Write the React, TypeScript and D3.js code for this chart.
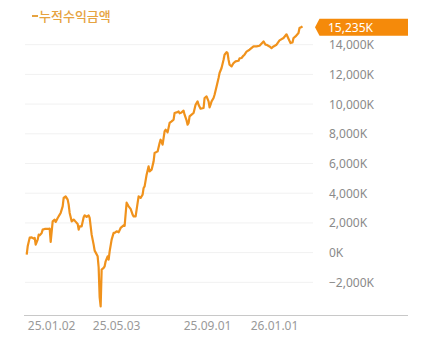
import React from "react";
import * as d3 from "d3";

// trading-day index (x) and cumulative profit in K won
const dayIndex = [0,1,3,5,7,8,9,11,12,13,15,16,18,22,23,24,26,28,29,31,33,34,36,37,39,41,42,43,45,47,48,51,52,53,55,57,58,60,62,63,65,67,68,71,72,73,74,75,77,78,79,81,82,83,85,87,88,90,92,94,97,98,99,100,102,104,106,107,109,111,112,114,116,117,118,120,122,123,125,127,128,131,133,134,136,138,139,141,143,145,147,148,150,152,153,155,157,158,160,161,162,163,165,167,169,171,172,174,177,178,180,182,183,184,185,187,188,190,192,193,195,197,198,200,201,202,203,205,207,209,212,213,215,217,218,220,223,227,230,233,237,239,240,243,245,247,250,253,257,260,262,264,266,267,269,272,273,275,276];
const profitK = [-135,424,1010,1030,942,989,538,875,1211,1164,1326,1548,1595,1595,1615,720,2106,2221,2066,2335,2557,2672,3116,3681,3789,3567,3230,2672,2106,2221,2154,1932,1548,1770,1770,2376,2510,2403,2510,2335,1211,538,135,-249,-1000,-3000,-3620,-1144,-1030,-922,-585,-249,-471,87,875,1326,1326,1433,1366,1662,1830,1800,2600,3363,3116,2941,2557,2443,2443,3345,3789,3681,3903,4354,4462,5249,5808,5471,5586,6144,6710,6817,7383,7605,7268,8163,8278,8096,8729,8836,8951,9402,9442,9509,9380,9442,9557,9290,8900,8614,8729,9173,9287,9402,9960,10182,9960,9691,9738,10411,10519,10182,9779,9960,10182,10411,10633,11192,11757,12094,12430,12989,13325,13500,13440,12989,12652,12538,12766,12874,12922,13080,13103,13270,13325,13530,13662,13884,13884,13931,14220,14000,13998,13884,13777,13884,13998,14288,14450,14700,14400,14113,14153,14450,14557,14786,15120,15190,15235];
const xTickDays = [25, 90, 181, 248];
const xTickLabels = ["25.01.02", "25.05.03", "25.09.01", "26.01.01"];
const yTickValues = [-2000, 0, 2000, 4000, 6000, 8000, 10000, 12000, 14000];
const seriesName = "누적수익금액";

export default function App() {
  const W = 431, H = 352;
  const x = d3.scaleLinear().domain([0, 276]).range([26.7, 302.5]);
  const y = d3.scaleLinear().domain([-4200, 16000]).range([315, 15]);
  const pts = dayIndex.map((d, i) => [d, profitK[i]] as [number, number]);
  const line = d3.line<[number, number]>().x(d => x(d[0])).y(d => y(d[1]));
  const fmt = (v: number) => d3.format(",")(v) + "K";
  const last = profitK[profitK.length - 1];
  const ly = y(last);
  const font = "'Noto Sans', 'Noto Sans CJK KR', sans-serif";
  return (
    <svg width={W} height={H} style={{ position: "absolute", left: 0, top: 0, background: "#fff" }}>
      {yTickValues.map(v => (
        <g key={v}>
          <line x1={25} x2={313} y1={y(v)} y2={y(v)} stroke="#f1f1f1" strokeWidth={1} />
          <text x={329} y={y(v) + 4.5} fontSize={12} fill="#8a8a8a" fontFamily={font}>{fmt(v)}</text>
        </g>
      ))}
      <line x1={24} x2={408} y1={315.5} y2={315.5} stroke="#c8c8c8" strokeWidth={1} />
      {xTickDays.map((d, i) => (
        <text key={d} x={x(d)} y={329.5} fontSize={12} fill="#999" textAnchor="middle" fontFamily={font}>{xTickLabels[i]}</text>
      ))}
      <path d={line(pts) || ""} fill="none" stroke="#f0921c" strokeWidth={2.2} strokeLinejoin="round" />
      <line x1={32} x2={38} y1={16} y2={16} stroke="#e6a340" strokeWidth={2} />
      <text x={39} y={20.5} fontSize={13} fill="#e6a340" fontWeight={500} fontFamily="'Noto Sans CJK KR', sans-serif">{seriesName}</text>
      <path d={`M315,${ly + 1} L319.5,${ly - 7.5} L408,${ly - 7.5} L408,${ly + 9.5} L319.5,${ly + 9.5} Z`} fill="#f58a0a" />
      <text x={328} y={ly + 6} fontSize={12} fill="#fff" fontFamily={font}>{fmt(last)}</text>
    </svg>
  );
}
